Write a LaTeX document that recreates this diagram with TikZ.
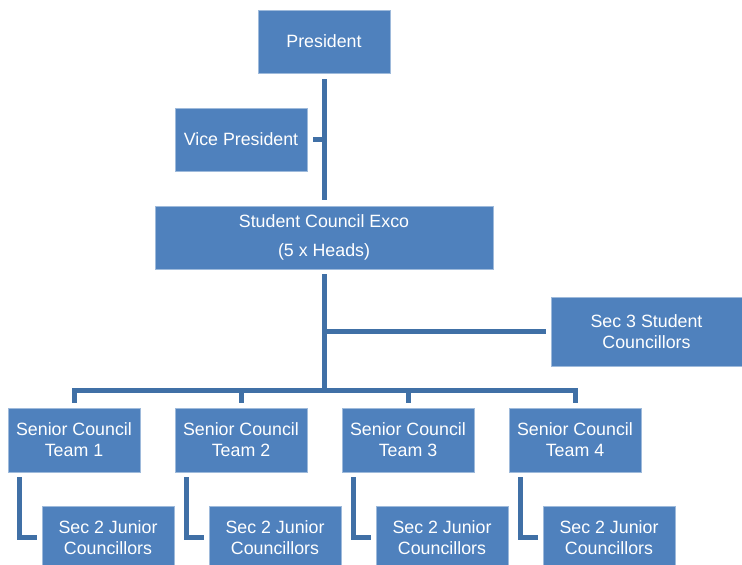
\documentclass[tikz,border=0pt]{standalone}
\usepackage{fontspec}
\setmainfont{Liberation Sans}
\definecolor{boxblue}{RGB}{79,129,189}
\definecolor{linkblue}{RGB}{64,112,166}

\begin{document}
\begin{tikzpicture}[x=1pt,y=-1pt,
		role/.style={rectangle,fill=boxblue,draw=boxblue!55!white,line width=0.6pt,
			text=white,minimum width=132pt,minimum height=63pt,inner sep=0pt,
			align=center,font=\fontsize{17.8}{21}\selectfont},
		link/.style={draw=linkblue,line width=5pt}]
		\useasboundingbox (0,0) rectangle (742,565);

		% Top of the council
		\node[role] (pres) at (324,41.5) {President};
		\node[role] (vp) at (241,139.5) {Vice President};
		\node[role,minimum width=338pt] (exco) at (324,237.5)
			{Student Council Exco\\[8pt](5 x Heads)};
		\node[role,minimum width=191pt,minimum height=69pt] (sec3) at (646.5,331.5)
			{Sec 3 Student\\Councillors};

		% Senior teams and their junior councillors
		\foreach \i/\x in {1/74,2/241,3/408,4/575} {
			\node[role,minimum height=64pt] (team\i) at (\x,440) {Senior Council\\Team \i};
			\node[role] (jun\i) at (\x+34,537.5) {Sec 2 Junior\\Councillors};
			\draw[link,shorten <=5pt,shorten >=5pt] ([xshift=12pt]team\i.south west) |- (jun\i.west);
		}

		% Connectors
		\coordinate (bus) at (324,390);
		\draw[link,shorten <=6pt,shorten >=6pt] (pres.south) -- (exco.north);
		\draw[link,shorten <=6pt] (vp.east) -- (vp.east -| pres.south);
		\draw[link,shorten <=5pt] (exco.south) -- (bus);
		\draw[link,shorten <=5pt] (sec3.west) -- (sec3.west -| exco.south);
		\draw[link,shorten <=5pt,shorten >=5pt] (team1.north) |- (bus) -| (team4.north);
		\draw[link,shorten >=5pt] (team2.north |- bus) -- (team2.north);
		\draw[link,shorten >=5pt] (team3.north |- bus) -- (team3.north);
	\end{tikzpicture}
\end{document}
